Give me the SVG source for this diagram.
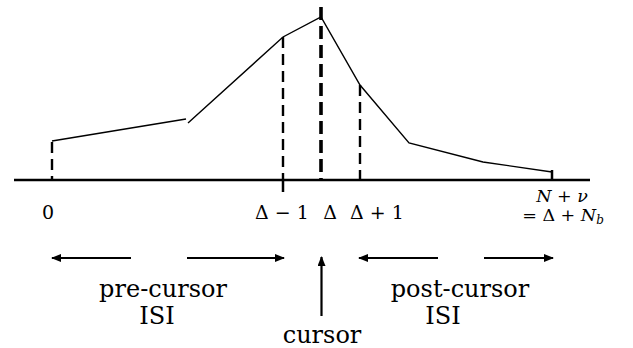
<svg xmlns="http://www.w3.org/2000/svg" width="633" height="348" viewBox="0 0 633 348">
<style>
text{font-family:"DejaVu Serif","Liberation Serif",serif;fill:#000}
.lbl{font-size:19px}
.sm{font-size:17.5px}
.big{font-size:24px}
.it{font-style:italic}
.ax{stroke:#000;stroke-width:2.5;fill:none}
.cv{stroke:#000;stroke-width:1.4;fill:none}
.dash{stroke:#000;stroke-width:2.4;stroke-dasharray:11 6;fill:none}
.dashc{stroke:#000;stroke-width:3.6;stroke-dasharray:13 6;fill:none}
.arr{stroke:#000;stroke-width:2.2;fill:none;marker-end:url(#ah)}
</style>
<defs>
<marker id="ah" viewBox="0 0 10 8" refX="9" refY="4" markerWidth="10" markerHeight="8" markerUnits="userSpaceOnUse" orient="auto">
<path d="M0,0 L10,4 L0,8 z" fill="#000"/>
</marker>
</defs>
<rect width="633" height="348" fill="#fff"/>
<g id="connectors">
<line class="ax" x1="14" y1="180" x2="590" y2="180"/>
<polyline class="cv" points="52,141 186,119"/>
<polyline class="cv" points="188,123 283,37 321,17 360,85 409,143 483,162 552,172"/>
<line class="dash" x1="52" y1="142" x2="52" y2="180"/>
<line class="dash" x1="283" y1="37" x2="283" y2="180"/>
<line class="ax" x1="283" y1="180" x2="283" y2="192"/>
<line class="dashc" x1="321" y1="7" x2="321" y2="180"/>
<line class="dash" x1="360" y1="85" x2="360" y2="180"/>
<line class="ax" x1="552" y1="170" x2="552" y2="180"/>
<line class="arr" x1="131" y1="258" x2="52" y2="258"/>
<line class="arr" x1="187" y1="258" x2="284" y2="258"/>
<line class="arr" x1="438" y1="258" x2="359" y2="258"/>
<line class="arr" x1="484" y1="258" x2="553" y2="258"/>
<line class="arr" x1="321.5" y1="316" x2="321.5" y2="257"/>
</g>
<g id="labels">
<text class="lbl" x="48" y="219" text-anchor="middle">0</text>
<text class="lbl" x="282" y="219" text-anchor="middle">Δ − 1</text>
<text class="lbl" x="330" y="219" text-anchor="middle">Δ</text>
<text class="lbl" x="377" y="219" text-anchor="middle">Δ + 1</text>
<text class="sm" x="562" y="202" text-anchor="middle"><tspan class="it">N</tspan> + <tspan class="it">ν</tspan></text>
<text class="sm" x="563" y="221" text-anchor="middle">= Δ + <tspan class="it">N</tspan><tspan class="it" font-size="12" dy="3">b</tspan></text>
</g>
<g id="pre-cursor">
<text class="big" x="163" y="297" text-anchor="middle">pre-cursor</text>
<text class="big" x="157" y="324" text-anchor="middle">ISI</text>
</g>
<g id="post-cursor">
<text class="big" x="460" y="297" text-anchor="middle">post-cursor</text>
<text class="big" x="443" y="324" text-anchor="middle">ISI</text>
</g>
<g id="cursor">
<text class="big" x="322" y="343" text-anchor="middle" font-size="23">cursor</text>
</g>
</svg>
